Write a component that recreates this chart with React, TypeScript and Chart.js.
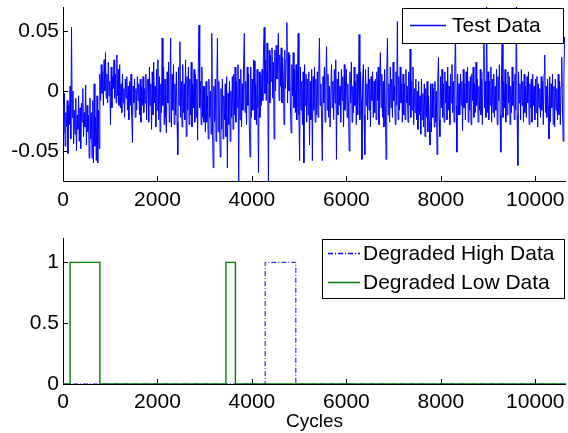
import React, { useEffect, useRef } from "react";
import { Chart, registerables } from "chart.js";
Chart.register(...registerables);

// ---------- data ----------
const SAMPLE_STEP = 15; // cycles between consecutive test-data samples
// each line = 300 cycles (20 samples)
const testData: number[] = [
  -.010, -.035, -.002, -.046, -.018, -.030, -.008, -.052, -.012, -.028, .004, -.040, .053, -.022, .000, -.044, -.016, -.036, -.006, -.050,
  -.020, -.032, -.004, -.042, -.014, -.048, -.010, -.026, .002, -.038, -.018, -.030, .005, -.045, -.012, -.034, -.020, -.056, -.006, -.040,
  -.018, -.056, -.008, -.060, .006, -.046, -.022, -.058, -.004, -.060, -.016, -.048, .014, -.008, .022, -.002, .016, -.012, .026, .000,
  .032, -.006, .014, -.010, .024, -.004, .008, -.028, .020, -.014, .012, .002, .026, -.006, .014, -.010, .030, -.004, .018, -.012,
  .022, -.014, .006, -.018, .014, -.010, .002, -.022, .010, -.006, .012, -.016, .004, -.024, .008, -.012, .014, -.020, -.043, .004,
  -.010, .010, -.022, .002, -.016, .012, -.008, .006, -.020, .010, -.026, .004, -.012, .012, -.018, .002, -.010, .014, -.024, .006,
  .010, -.026, .020, -.012, .006, -.032, .016, -.020, .024, -.010, .004, -.030, .018, -.016, .026, -.024, .012, -.034, .006, -.018,
  .044, -.012, .020, -.028, .010, -.022, -.035, .016, -.010, .024, -.026, .008, .044, -.030, .014, -.016, .022, -.028, .006, -.020,
  .016, -.026, -.053, .020, -.012, .041, -.022, .008, -.030, .022, -.018, .006, -.024, .026, -.038, .012, -.016, .020, -.028, .010,
  -.020, .024, -.030, .006, -.014, .018, -.026, .014, -.022, .010, -.041, .020, .055, -.014, .008, -.028, .020, -.022, .004, -.026,
  .004, -.034, .008, -.026, -.004, -.040, .010, -.022, .000, -.036, .048, -.030, -.064, .004, -.026, .010, -.042, -.002, .044, -.034,
  .008, -.028, -.055, .002, -.032, .010, -.040, -.004, -.024, .006, -.038, .012, -.064, -.002, -.028, .008, -.042, .000, -.022, .012,
  -.032, .014, -.020, .020, -.026, .008, -.014, .022, -.076, .010, -.024, .018, -.030, .006, -.016, .024, .048, -.018, .008, -.028,
  .020, -.012, .014, -.030, -.055, .020, -.022, .010, -.016, .026, .025, -.024, .006, -.028, .018, -.014, -.068, .016, -.022, .014,
  -.012, .018, -.008, .034, .053, -.002, .026, -.008, .040, .006, -.076, .034, -.010, .030, .008, .036, -.006, .024, -.040, .034,
  .000, .038, .010, .022, .048, -.008, .030, .004, .036, -.010, .028, .012, -.028, .034, .002, .026, .057, -.010, .032, .000,
  .030, -.012, -.035, .022, -.004, .032, -.014, .018, -.018, .022, -.024, .012, .048, -.020, -.058, .020, -.016, .008, -.028, .016,
  -.060, .022, -.012, .014, -.026, .010, -.020, .016, -.045, .008, -.024, .018, -.058, .012, -.016, .020, -.026, .010, -.020, .016,
  -.022, .016, .044, -.012, .006, -.024, -.058, .012, -.010, .020, -.026, .008, .037, -.016, .014, -.022, .004, -.030, -.030, .022,
  -.014, .008, -.024, .018, -.010, .026, -.057, .010, -.020, .016, -.012, .004, -.026, .018, -.008, .012, -.030, .022, -.016, .006,
  .018, -.022, .006, -.014, -.050, .016, -.010, .024, -.026, .004, -.018, .020, -.012, .008, -.028, .014, -.020, .002, .047, -.024,
  .016, -.008, -.057, .010, .022, -.020, -.053, .018, -.012, .006, -.024, .020, -.016, .010, -.030, .012, -.008, .016, -.022, .008,
  -.018, .010, -.024, .016, -.008, .020, -.028, .006, .032, -.014, .014, -.022, .008, -.030, .018, -.012, -.057, .016, .044, -.020,
  .006, -.026, .020, -.014, .010, -.022, .024, -.008, .004, -.028, .016, -.012, .058, -.024, .012, -.016, .020, -.010, .006, -.026,
  .014, -.020, .006, -.024, .018, -.010, .004, -.026, .016, -.012, .035, -.022, .008, -.016, .020, -.028, .002, -.018, .010, -.024,
  .000, -.032, .008, -.020, -.004, -.036, .010, -.024, -.002, -.030, .006, -.038, .002, -.022, .008, -.034, -.004, -.026, -.045, .006,
  -.034, .006, -.022, .002, -.030, .008, -.026, .000, -.053, .010, .028, -.024, -.038, .012, -.014, .018, -.022, .006, -.026, .016,
  -.010, .008, -.024, .020, -.016, .004, -.028, .014, -.010, .022, -.018, .008, -.026, .016, .050, -.012, -.051, .014, -.020, .006,
  -.020, .014, -.012, .008, -.033, .018, -.014, .006, -.024, .016, -.010, .020, -.026, .008, -.016, .012, -.028, .014, -.008, .020,
  -.022, .006, -.018, .024, -.012, .010, -.026, .004, -.016, .018, -.020, .010, -.028, .016, .068, -.014, .008, -.022, .070, -.018,
  .016, -.024, .008, -.012, .020, -.026, .010, -.018, .014, -.022, .004, -.016, .018, -.028, .012, -.008, .022, -.020, -.051, .014,
  .055, -.022, .008, -.014, .018, -.026, .006, -.020, .016, -.010, .012, -.028, .004, -.018, .020, -.012, .008, -.024, .014, -.016,
  .072, -.020, -.062, .016, -.010, .006, -.024, .018, -.012, .008, -.026, .014, -.018, .004, -.022, .012, -.010, .016, -.028, .006,
  -.014, .010, -.026, .014, -.012, .004, -.024, .010, -.018, .012, -.030, .006, -.014, .002, -.022, .012, -.016, .008, -.028, .014,
  .030, -.018, .004, -.022, .010, -.012, -.040, .012, -.026, .006, -.014, .014, -.028, .004, -.030, .010, -.016, .002, -.024, .014,
  -.020, .008, -.028, .004, .028, -.014, -.042, .012, .045,
];

const highCycles = [0, 4280, 4280, 4930, 4930, 10650];
const highValues = [0, 0, 1, 1, 0, 0];
const lowCycles = [0, 150, 150, 780, 780, 3450, 3450, 3650, 3650, 10650];
const lowValues = [0, 0, 1, 1, 0, 0, 1, 1, 0, 0];

const X_MAX = 10650;
const xTicks = [0, 2000, 4000, 6000, 8000, 10000];
const topYTicks = [-0.05, 0, 0.05];
const bottomYTicks = [0, 0.5, 1];

const LABEL_TEST = "Test Data";
const LABEL_HIGH = "Degraded High Data";
const LABEL_LOW = "Degraded Low Data";
const X_TITLE = "Cycles";

// ---------- styling ----------
const FONT = "'Liberation Sans', Arial, Helvetica, sans-serif";
const TICK_SIZE = 21;
const LEGEND_SIZE = 21;

const matlabAxes = {
  id: "matlabAxes",
  beforeDatasetsDraw(chart: any) {
    const { ctx, chartArea: a, scales } = chart;
    ctx.save();
    ctx.strokeStyle = "#000";
    ctx.lineWidth = 1;
    ctx.beginPath();
    ctx.moveTo(a.left + 0.5, a.top);
    ctx.lineTo(a.left + 0.5, a.bottom + 0.5);
    ctx.lineTo(a.right, a.bottom + 0.5);
    for (const t of scales.x.ticks) {
      const px = Math.round(scales.x.getPixelForValue(t.value)) + 0.5;
      ctx.moveTo(px, a.bottom);
      ctx.lineTo(px, a.bottom - 5);
    }
    for (const t of scales.y.ticks) {
      const py = Math.round(scales.y.getPixelForValue(t.value)) + 0.5;
      ctx.moveTo(a.left, py);
      ctx.lineTo(a.left + 5, py);
    }
    ctx.stroke();
    ctx.restore();
  },
};

const boxLegend = {
  id: "boxLegend",
  afterDraw(chart: any, _args: any, opts: any) {
    const { ctx, chartArea: a } = chart;
    const right = Math.round(a.right - opts.rightInset);
    const left = right - opts.width;
    const top = Math.round(a.top + opts.topInset);
    ctx.save();
    ctx.fillStyle = "#fff";
    ctx.fillRect(left, top, opts.width, opts.height);
    ctx.strokeStyle = "#000";
    ctx.lineWidth = 1;
    ctx.strokeRect(left + 0.5, top + 0.5, opts.width, opts.height);
    ctx.font = `${LEGEND_SIZE}px ${FONT}`;
    ctx.textBaseline = "middle";
    ctx.textAlign = "left";
    (opts.order as number[]).forEach((di, k) => {
      const ds = chart.data.datasets[di];
      const y = top + opts.firstRow + k * opts.rowHeight;
      ctx.strokeStyle = ds.borderColor;
      ctx.lineWidth = 1.5;
      ctx.setLineDash(ds.borderDash || []);
      ctx.beginPath();
      ctx.moveTo(left + opts.lineStart, y + 0.5);
      ctx.lineTo(left + opts.lineStart + opts.lineLength, y + 0.5);
      ctx.stroke();
      ctx.setLineDash([]);
      ctx.fillStyle = "#000";
      ctx.fillText(ds.label, left + opts.textStart, y + 1);
    });
    ctx.restore();
  },
};

function zeroPad(s: any) {
  s.paddingLeft = 0;
  s.paddingRight = 0;
  s.paddingTop = 0;
  s.paddingBottom = 0;
}

function xScale(height: number, withTitle: boolean, pad: number) {
  return {
    type: "linear",
    min: 0,
    max: X_MAX,
    afterBuildTicks: (s: any) => {
      s.ticks = xTicks.map((v) => ({ value: v }));
    },
    afterFit: (s: any) => {
      s.height = height;
      zeroPad(s);
    },
    ticks: {
      callback: (v: any) => String(v),
      padding: pad,
      maxRotation: 0,
      autoSkip: false,
      color: "#000",
      font: { family: FONT, size: TICK_SIZE },
    },
    grid: { display: false, drawTicks: false },
    border: { display: false },
    title: withTitle
      ? { display: true, text: X_TITLE, color: "#000", padding: 0, font: { family: FONT, size: 19 } }
      : { display: false },
  };
}

function yScale(min: number, max: number, ticks: number[]) {
  return {
    type: "linear",
    min,
    max,
    afterBuildTicks: (s: any) => {
      s.ticks = ticks.map((v) => ({ value: v }));
    },
    afterFit: (s: any) => {
      s.width = 63;
      zeroPad(s);
    },
    ticks: {
      callback: (v: any) => String(v),
      padding: 4,
      color: "#000",
      font: { family: FONT, size: TICK_SIZE },
    },
    grid: { display: false, drawTicks: false },
    border: { display: false },
  };
}

export default function App() {
  const topRef = useRef<HTMLCanvasElement>(null);
  const botRef = useRef<HTMLCanvasElement>(null);

  useEffect(() => {
    const top = new Chart(topRef.current as HTMLCanvasElement, {
      type: "line",
      data: {
        datasets: [
          {
            label: LABEL_TEST,
            data: testData.map((v, i) => ({ x: i * SAMPLE_STEP, y: v })),
            borderColor: "#0000ff",
            borderWidth: 1,
            pointRadius: 0,
            tension: 0,
          },
        ],
      },
      options: {
        responsive: false,
        animation: false,
        devicePixelRatio: 1,
        layout: { padding: { top: 7, right: 2, left: 0, bottom: 0 } },
        scales: {
          x: xScale(34, false, 7) as any,
          y: yScale(-0.075, 0.07, topYTicks) as any,
        },
        plugins: {
          legend: { display: false },
          tooltip: { enabled: false },
          boxLegend: {
            order: [0],
            width: 161,
            height: 35,
            rightInset: 3,
            topInset: 1,
            firstRow: 17,
            rowHeight: 28,
            lineStart: 8,
            lineLength: 36,
            textStart: 50,
          },
        } as any,
      },
      plugins: [matlabAxes, boxLegend],
    });

    const bot = new Chart(botRef.current as HTMLCanvasElement, {
      type: "line",
      data: {
        datasets: [
          {
            label: LABEL_HIGH,
            data: highCycles.map((c, i) => ({ x: c, y: highValues[i] })),
            borderColor: "#0000ff",
            borderWidth: 1,
            borderDash: [5, 2, 1, 2],
            pointRadius: 0,
            tension: 0,
            order: 2,
          },
          {
            label: LABEL_LOW,
            data: lowCycles.map((c, i) => ({ x: c, y: lowValues[i] })),
            borderColor: "#008000",
            borderWidth: 1.4,
            pointRadius: 0,
            tension: 0,
            order: 1,
          },
        ],
      },
      options: {
        responsive: false,
        animation: false,
        devicePixelRatio: 1,
        layout: { padding: { top: 23, right: 2, left: 0, bottom: 0 } },
        scales: {
          x: xScale(49, true, 6) as any,
          y: yScale(0, 1.2, bottomYTicks) as any,
        },
        plugins: {
          legend: { display: false },
          tooltip: { enabled: false },
          boxLegend: {
            order: [0, 1],
            width: 242,
            height: 59,
            rightInset: 2,
            topInset: 1,
            firstRow: 14,
            rowHeight: 29,
            lineStart: 6,
            lineLength: 32,
            textStart: 41,
          },
        } as any,
      },
      plugins: [matlabAxes, boxLegend],
    });

    return () => {
      top.destroy();
      bot.destroy();
    };
  }, []);

  return (
    <div style={{ position: "absolute", left: 0, top: 0, width: 568, height: 433, background: "#fff" }}>
      <canvas ref={topRef} width={568} height={215} style={{ position: "absolute", left: 0, top: 0 }} />
      <canvas ref={botRef} width={568} height={218} style={{ position: "absolute", left: 0, top: 215 }} />
    </div>
  );
}
